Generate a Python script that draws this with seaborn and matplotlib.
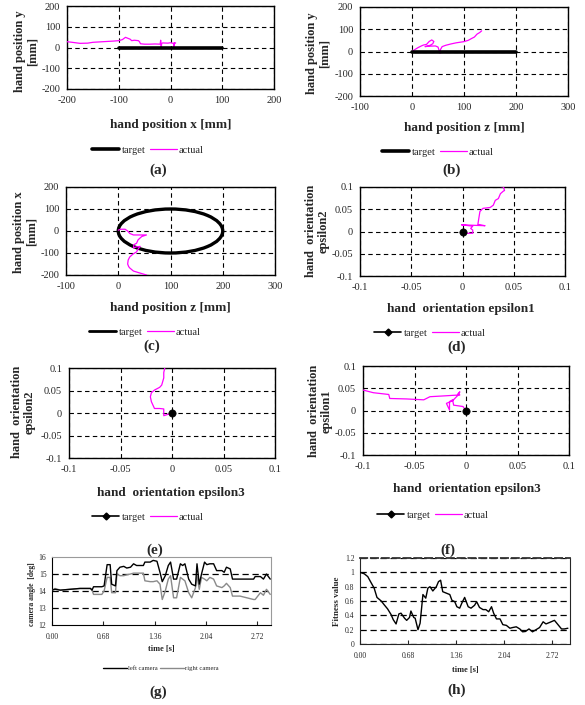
import matplotlib
matplotlib.use("Agg")
import matplotlib.pyplot as plt
import seaborn as sns
from matplotlib.lines import Line2D
from matplotlib.patches import Ellipse

# ---------------- data ----------------
# (a) hand position x / y
a_target_x = [-100, 100]
a_target_y = [0, 0]
a_actual_x = [-200, -190, -175, -160, -150, -130, -110, -100, -93, -87, -82, -78, -75, -70, -62, -60, -58,
              -50, -40, -30, -20, -19, -18, -17, -15, -5, 0, 5, 8, 6, 7, 10]
a_actual_y = [28, 25, 20, 21, 25, 28, 31, 33, 38, 49, 44, 40, 33, 35, 33, 28, 18,
              16, 16, 17, 16, 35, -2, 20, 22, 21, 23, 20, 22, 2, 20, 22]

# (b) hand position z / y
b_target_z = [0, 200]
b_target_y = [0, 0]
b_actual_z = [0, 5, 12, 18, 22, 28, 33, 38, 42, 40, 35, 30, 25, 35, 45, 50, 54, 55, 58, 65, 75, 85,
              99, 108, 115, 120, 125, 130, 134]
b_actual_y = [0, 8, 18, 25, 29, 32, 45, 52, 45, 35, 28, 25, 22, 24, 25, 20, -8, 10, 22, 28, 34, 39,
              44, 50, 59, 65, 78, 85, 93]

# (c) hand position z / x
c_target_center = (100, 0)
c_target_radius_z = 100
c_target_radius_x = 100
c_actual_z = [0, 5, 13, 18, 22, 29, 40, 54, 45, 38, 35, 30, 29, 35, 42, 38, 35, 28, 22, 19, 18, 20,
              22, 29, 40, 54]
c_actual_x = [4, 8, 8, 0, -11, -18, -18, -18, -25, -40, -56, -62, -77, -72, -70, -82, -95, -105, -118,
              -132, -150, -162, -168, -182, -190, -200]

# (d) orientation epsilon1 / epsilon2
eps_target = (0, 0)
d_actual_x = [0.001, 0.010, 0.010, 0.008, 0.010, -0.001, 0.022, 0.015, 0.0154, 0.017, 0.020, 0.027,
              0.030, 0.032, 0.035, 0.037, 0.040, 0.041, 0.040, 0.033]
d_actual_y = [-0.004, -0.004, 0.003, 0.007, 0.012, 0.015, 0.013, 0.016, 0.022, 0.045, 0.052, 0.054,
              0.059, 0.070, 0.074, 0.085, 0.091, 0.092, 0.100, 0.103]

# (e) orientation epsilon3 / epsilon2
e_actual_x = [0, -0.008, -0.008, -0.012, -0.017, -0.020, -0.021, -0.020, -0.017, -0.012, -0.010,
              -0.009, -0.008, -0.008, -0.007]
e_actual_y = [0, -0.006, 0.009, 0.010, 0.010, 0.025, 0.036, 0.045, 0.051, 0.057, 0.062, 0.070,
              0.078, 0.090, 0.100]

# (f) orientation epsilon3 / epsilon1
f_actual_x = [0, -0.003, -0.012, -0.013, -0.016, -0.016, -0.019, -0.013, -0.0075, -0.006, -0.008,
              -0.006, -0.020, -0.035, -0.041, -0.058, -0.074, -0.075, -0.090, -0.100]
f_actual_y = [0, 0.009, 0.012, 0.024, 0.020, 0.001, 0.016, 0.022, 0.035, 0.042, 0.037, 0.035,
              0.033, 0.031, 0.024, 0.026, 0.027, 0.036, 0.040, 0.046]

# (g) camera angles
g_time = [0.00, 0.04, 0.11, 0.37, 0.40, 0.51, 0.53, 0.55, 0.66, 0.69, 0.73, 0.77, 0.79, 0.84, 0.86,
          0.90, 0.95, 0.99, 1.04, 1.08, 1.12, 1.21, 1.23, 1.30, 1.34, 1.39, 1.43, 1.46, 1.50, 1.54,
          1.57, 1.61, 1.65, 1.70, 1.73, 1.76, 1.81, 1.85, 1.90, 1.92, 1.95, 1.98, 2.02, 2.05, 2.09,
          2.14, 2.18, 2.25, 2.28, 2.31, 2.36, 2.39, 2.49, 2.67, 2.69, 2.76, 2.80, 2.84, 2.89]
g_left = [14.05, 14.10, 14.05, 14.15, 14.15, 14.15, 14.05, 14.25, 14.25, 14.30, 15.55, 15.55, 14.40,
          14.30, 15.20, 15.40, 15.45, 15.35, 15.40, 15.60, 15.50, 15.50, 15.70, 15.70, 15.80, 15.75,
          15.10, 14.55, 14.90, 15.50, 15.70, 14.70, 14.70, 15.60, 15.50, 15.60, 14.70, 14.40, 14.30,
          15.60, 14.40, 15.00, 15.70, 15.55, 15.60, 15.60, 15.20, 15.20, 15.10, 15.40, 15.30, 14.70,
          14.70, 14.70, 14.85, 14.85, 14.70, 15.00, 14.70]
g_right = [14.05, 14.15, 14.05, 14.15, 14.15, 14.15, 14.05, 13.80, 13.80, 14.00, 14.80, 14.80, 13.90,
           13.90, 15.00, 14.90, 14.90, 14.95, 15.00, 15.05, 15.05, 15.05, 14.60, 14.55, 14.55, 14.60,
           14.40, 13.50, 14.00, 14.70, 14.90, 13.60, 13.60, 14.80, 14.70, 14.60, 13.90, 13.60, 14.20,
           14.90, 14.10, 14.80, 14.70, 14.60, 14.80, 14.70, 14.30, 14.20, 14.30, 14.45, 14.20, 13.70,
           13.70, 13.50, 13.50, 13.90, 13.75, 14.10, 13.80]

# (h) fitness value
h_time = [0.00, 0.06, 0.11, 0.16, 0.20, 0.24, 0.30, 0.34, 0.39, 0.44,
          0.47, 0.51, 0.55, 0.58, 0.63, 0.66, 0.70, 0.72, 0.76, 0.78,
          0.82, 0.85, 0.89, 0.93, 0.96, 0.99, 1.03, 1.08, 1.11, 1.14,
          1.17, 1.22, 1.27, 1.30, 1.34, 1.37, 1.41, 1.44, 1.48, 1.53,
          1.57, 1.62, 1.65, 1.69, 1.74, 1.78, 1.82, 1.86, 1.89, 1.93,
          1.98, 2.02, 2.07, 2.12, 2.16, 2.21, 2.26, 2.30, 2.34, 2.39,
          2.44, 2.49, 2.54, 2.59, 2.63, 2.68, 2.75, 2.80, 2.85, 2.89, 2.94]
h_fit = [1.00, 0.98, 0.94, 0.85, 0.78, 0.65, 0.60, 0.55, 0.49, 0.41,
         0.34, 0.28, 0.42, 0.43, 0.36, 0.33, 0.37, 0.46, 0.37, 0.36,
         0.20, 0.29, 0.69, 0.64, 0.78, 0.80, 0.74, 0.80, 0.87, 0.89,
         0.73, 0.71, 0.69, 0.61, 0.59, 0.52, 0.50, 0.57, 0.65, 0.52,
         0.50, 0.54, 0.59, 0.51, 0.48, 0.48, 0.45, 0.52, 0.43, 0.35,
         0.35, 0.27, 0.26, 0.22, 0.23, 0.24, 0.21, 0.17, 0.175, 0.21,
         0.17, 0.20, 0.23, 0.31, 0.28, 0.30, 0.33, 0.27, 0.21, 0.21, 0.22]

pos_ticks_200 = [-200, -100, 0, 100, 200]
pos_ticks_300 = [-100, 0, 100, 200, 300]
eps_ticks = [-0.1, -0.05, 0, 0.05, 0.1]
eps_labels = ['-0.1', '-0.05', '0', '0.05', '0.1']
time_ticks = [0.00, 0.68, 1.36, 2.04, 2.72]
time_labels = ['0.00', '0.68', '1.36', '2.04', '2.72']
angle_ticks = [12, 13, 14, 15, 16]
fit_ticks = [0, 0.2, 0.4, 0.6, 0.8, 1.0, 1.2]
fit_labels = ['0', '0.2', '0.4', '0.6', '0.8', '1', '1.2']

# ---------------- style ----------------
sns.set_style("white")
SERIF = ['Liberation Serif', 'DejaVu Serif']
plt.rcParams['font.family'] = SERIF
plt.rcParams['axes.unicode_minus'] = False

W, H = 585, 705
fig = plt.figure(figsize=(W / 100, H / 100), dpi=100)
MAG = '#FF00FF'


def add_ax(l, r, t, b):
    return fig.add_axes([l / W, 1 - b / H, (r - l) / W, (b - t) / H])


def ftext(x, y, s, **kw):
    fig.text(x / W, 1 - y / H, s, ha='center', va='center', **kw)


def style_box(ax, xt, yt, xl=None, yl=None, fs=7.5):
    ax.set_xticks(xt, xl if xl is not None else [str(v) for v in xt])
    ax.set_yticks(yt, yl if yl is not None else [str(v) for v in yt])
    ax.set_xlim(xt[0], xt[-1])
    ax.set_ylim(yt[0], yt[-1])
    ax.grid(True, color='black', linestyle=(0, (4, 3)), linewidth=0.8)
    ax.set_axisbelow(True)
    for s in ax.spines.values():
        s.set_color('black')
        s.set_linewidth(1.0)
    ax.tick_params(length=0, labelsize=fs, pad=5)
    ax.set_xlabel('')
    ax.set_ylabel('')


def legend_at(ax, x, y, handles=None, labels=None, fs=7.5, hl=2.6):
    if handles is None:
        handles, labels = ax.get_legend_handles_labels()
    if ax.get_legend() is not None:
        ax.get_legend().remove()
    fig.legend(handles, labels, loc='center', bbox_to_anchor=(x / W, 1 - y / H), ncol=2,
               frameon=False, fontsize=fs, handlelength=hl, columnspacing=0.4,
               handletextpad=0.2, borderpad=0)


LBL = dict(fontsize=9.5, fontweight='bold')
YLBL = dict(fontsize=9, fontweight='bold', rotation=90, linespacing=1.1)
PAN = dict(fontsize=11, fontweight='bold')

# (a)
ax = add_ax(67, 274, 6, 89)
sns.lineplot(x=a_actual_x, y=a_actual_y, sort=False, estimator=None, color=MAG, linewidth=0.9,
             ax=ax, label='actual', zorder=3)
sns.lineplot(x=a_target_x, y=a_target_y, sort=False, estimator=None, color='black', linewidth=2.6,
             ax=ax, label='target', zorder=4)
style_box(ax, pos_ticks_200, pos_ticks_200)
h, l = ax.get_legend_handles_labels()
legend_at(ax, 148, 150, [h[1], h[0]], [l[1], l[0]])
ftext(171, 125, 'hand position x [mm]', **LBL)
ftext(26, 51, 'hand position y\n[mm]', **YLBL)
ftext(158, 170, '(a)', **PAN)

# (b)
ax = add_ax(360, 568, 7, 96)
sns.lineplot(x=b_actual_z, y=b_actual_y, sort=False, estimator=None, color=MAG, linewidth=0.9,
             ax=ax, label='actual', zorder=3)
sns.lineplot(x=b_target_z, y=b_target_y, sort=False, estimator=None, color='black', linewidth=2.6,
             ax=ax, label='target', zorder=4)
style_box(ax, pos_ticks_300, pos_ticks_200)
h, l = ax.get_legend_handles_labels()
legend_at(ax, 438, 152, [h[1], h[0]], [l[1], l[0]])
ftext(464, 128, 'hand position z [mm]', **LBL)
ftext(318, 53, 'hand position y\n[mm]', **YLBL)
ftext(452, 170, '(b)', **PAN)

# (c)
ax = add_ax(66, 275, 187, 275)
ax.add_patch(Ellipse(c_target_center, 2 * c_target_radius_z, 2 * c_target_radius_x, fill=False,
                     edgecolor='black', linewidth=2.4, zorder=4))
sns.lineplot(x=c_actual_z, y=c_actual_x, sort=False, estimator=None, color=MAG, linewidth=0.9,
             ax=ax, label='actual', zorder=5)
style_box(ax, pos_ticks_300, pos_ticks_200)
legend_at(ax, 145, 332,
          [Line2D([], [], color='black', lw=2.0), Line2D([], [], color=MAG, lw=0.9)],
          ['target', 'actual'])
ftext(170, 308, 'hand position z [mm]', **LBL)
ftext(25, 232, 'hand position x\n[mm]', **YLBL)
ftext(152, 346, '(c)', **PAN)

tgt_handle = Line2D([], [], color='black', lw=1.2, marker='D', markersize=3.5)
act_handle = Line2D([], [], color=MAG, lw=0.9)

# (d)
ax = add_ax(360, 565, 187, 276)
sns.lineplot(x=d_actual_x, y=d_actual_y, sort=False, estimator=None, color=MAG, linewidth=0.9,
             ax=ax, zorder=3)
sns.scatterplot(x=[eps_target[0]], y=[eps_target[1]], color='black', s=28, ax=ax, zorder=5,
                edgecolor='black')
style_box(ax, eps_ticks, eps_ticks, eps_labels, eps_labels)
legend_at(ax, 430, 333, [tgt_handle, act_handle], ['target', 'actual'])
ftext(461, 309, 'hand  orientation epsilon1', **LBL)
ftext(317, 231, 'hand  orientation\nepsilon2', **YLBL)
ftext(457, 347, '(d)', **PAN)

# (e)
ax = add_ax(69, 275, 368, 458)
sns.lineplot(x=e_actual_x, y=e_actual_y, sort=False, estimator=None, color=MAG, linewidth=0.9,
             ax=ax, zorder=3)
sns.scatterplot(x=[eps_target[0]], y=[eps_target[1]], color='black', s=28, ax=ax, zorder=5,
                edgecolor='black')
style_box(ax, eps_ticks, eps_ticks, eps_labels, eps_labels)
legend_at(ax, 148, 517, [tgt_handle, act_handle], ['target', 'actual'])
ftext(171, 493, 'hand  orientation epsilon3', **LBL)
ftext(23, 412, 'hand  orientation\nepsilon2', **YLBL)
ftext(155, 550, '(e)', **PAN)

# (f)
ax = add_ax(363, 569, 366, 455)
sns.lineplot(x=f_actual_x, y=f_actual_y, sort=False, estimator=None, color=MAG, linewidth=0.9,
             ax=ax, zorder=3)
sns.scatterplot(x=[eps_target[0]], y=[eps_target[1]], color='black', s=28, ax=ax, zorder=5,
                edgecolor='black')
style_box(ax, eps_ticks, eps_ticks, eps_labels, eps_labels)
legend_at(ax, 433, 515, [tgt_handle, act_handle], ['target', 'actual'])
ftext(467, 489, 'hand  orientation epsilon3', **LBL)
ftext(320, 411, 'hand  orientation\nepsilon1', **YLBL)
ftext(448, 550, '(f)', **PAN)

# (g)
ax = add_ax(52, 271, 557, 625)
sns.lineplot(x=g_time, y=g_right, sort=False, estimator=None, color='#8a8a8a', linewidth=1.0,
             ax=ax, label='right camera', zorder=3)
sns.lineplot(x=g_time, y=g_left, sort=False, estimator=None, color='black', linewidth=1.0,
             ax=ax, label='left camera', zorder=4)
ax.set_xticks(time_ticks, time_labels)
ax.set_yticks(angle_ticks, [str(v) for v in angle_ticks])
ax.set_xlim(0, 2.90)
ax.set_ylim(12, 16)
ax.yaxis.grid(True, color='black', linestyle=(0, (5, 3)), linewidth=0.9)
ax.xaxis.grid(False)
for s in ['left', 'bottom']:
    ax.spines[s].set_color('black')
for s in ['top', 'right']:
    ax.spines[s].set_color('#9a9a9a')
ax.spines['top'].set_linestyle((0, (2, 1)))
ax.tick_params(axis='x', direction='in', length=3, labelsize=5.5, pad=6, bottom=True)
ax.tick_params(axis='y', length=0, labelsize=5.5, pad=4)
ax.set_xlabel('')
ax.set_ylabel('')
fig.canvas.draw()
glines = ax.yaxis.get_gridlines()
glines[0].set_visible(False)
glines[-1].set_visible(False)
h, l = ax.get_legend_handles_labels()
legend_at(ax, 161, 668, [h[1], h[0]], [l[1], l[0]], fs=4.8, hl=3.5)
ftext(161, 649, 'time [s]', fontsize=6, fontweight='bold')
ftext(32, 594, 'camera angle  [deg]', fontsize=5.5, fontweight='bold', rotation=90)
ftext(158, 692, '(g)', **PAN)

# (h)
ax = add_ax(360, 570, 558, 644)
sns.lineplot(x=h_time, y=h_fit, sort=False, estimator=None, color='black', linewidth=1.0, ax=ax,
             zorder=4)
ax.set_xticks(time_ticks, time_labels)
ax.set_yticks(fit_ticks, fit_labels)
ax.set_xlim(0, 2.97)
ax.set_ylim(0, 1.2)
ax.yaxis.grid(True, color='black', linestyle=(0, (5, 3)), linewidth=0.9)
ax.xaxis.grid(False)
ax.spines['top'].set_color('#333333')
ax.spines['top'].set_linewidth(1.3)
ax.spines['top'].set_linestyle((0, (4, 2)))
ax.tick_params(axis='x', direction='in', length=3, labelsize=5.5, pad=6, bottom=True)
ax.tick_params(axis='y', length=0, labelsize=5.5, pad=4)
ax.set_xlabel('')
ax.set_ylabel('')
ftext(465, 670, 'time [s]', fontsize=6, fontweight='bold')
ftext(337, 601, 'Fitness value', fontsize=6.5, fontweight='bold', rotation=90)
ftext(457, 690, '(h)', **PAN)

fig.savefig('out.png', dpi=100)
